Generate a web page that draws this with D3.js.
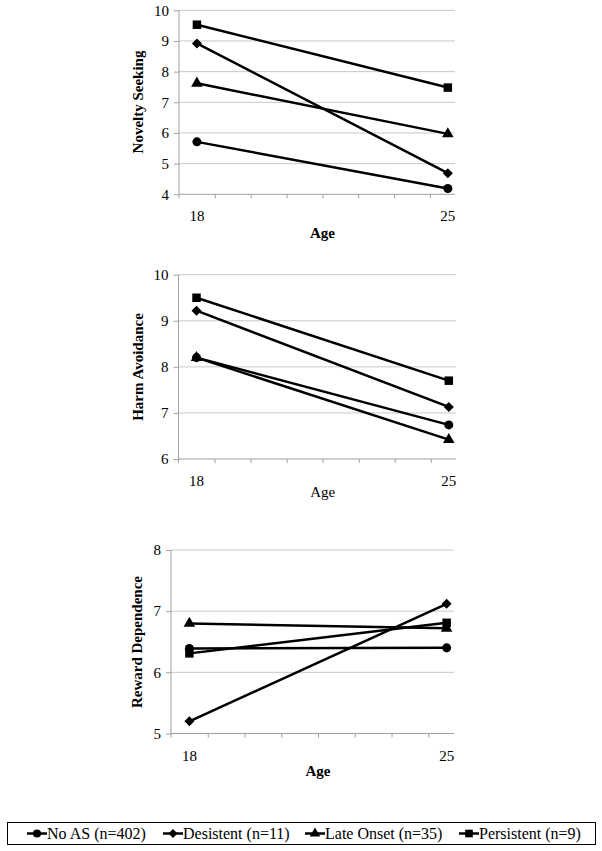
<!DOCTYPE html>
<html>
<head>
<meta charset="utf-8">
<script src="https://cdn.jsdelivr.net/npm/d3@7"></script>
<style>
  html, body { margin: 0; padding: 0; background: #fff; }
  svg { display: block; }
  text { font-family: "Liberation Serif", "Times New Roman", serif; fill: #000; }
</style>
</head>
<body>
<svg id="chart" width="602" height="851"></svg>
<script>
// ---- data ----
const ages = [18, 25];
const xTickLabels = ["18", "25"];
const seriesNames = ["No AS (n=402)", "Desistent (n=11)", "Late Onset (n=35)", "Persistent (n=9)"];
const seriesSymbols = ["circle", "diamond", "triangle", "square"];

const noveltyNoAS = [5.71, 4.19];
const noveltyDesistent = [8.92, 4.69];
const noveltyLateOnset = [7.62, 5.97];
const noveltyPersistent = [9.53, 7.48];

const harmNoAS = [8.20, 6.74];
const harmDesistent = [9.22, 7.13];
const harmLateOnset = [8.20, 6.42];
const harmPersistent = [9.50, 7.70];

const rewardNoAS = [6.39, 6.40];
const rewardDesistent = [5.20, 7.12];
const rewardLateOnset = [6.80, 6.72];
const rewardPersistent = [6.31, 6.81];

const noveltyTicks = [4, 5, 6, 7, 8, 9, 10];
const harmTicks = [6, 7, 8, 9, 10];
const rewardTicks = [5, 6, 7, 8];

// ---- layout ----
const panels = [
  { title: "Novelty Seeking", xTitle: "Age", xBold: true,
    series: [noveltyNoAS, noveltyDesistent, noveltyLateOnset, noveltyPersistent],
    yDomain: [4, 10], yTicks: noveltyTicks,
    left: 179, right: 455, top: 10.3, bottom: 194.3,
    titleX: 138, titleY: 102, xTitleY: 238 },
  { title: "Harm Avoidance", xTitle: "Age", xBold: false,
    series: [harmNoAS, harmDesistent, harmLateOnset, harmPersistent],
    yDomain: [6, 10], yTicks: harmTicks,
    left: 178.5, right: 456, top: 274.7, bottom: 459,
    titleX: 137.5, titleY: 367, xTitleY: 497 },
  { title: "Reward Dependence", xTitle: "Age", xBold: true,
    series: [rewardNoAS, rewardDesistent, rewardLateOnset, rewardPersistent],
    yDomain: [5, 8], yTicks: rewardTicks,
    left: 171, right: 454, top: 550, bottom: 733.5,
    titleX: 137, titleY: 642, xTitleY: 776 }
];

const svg = d3.select("#chart");
const gridColor = "#c8c8c8";
const axisColor = "#a0a0a0";

function drawSymbol(g, type, x, y, scale = 1) {
  const sizes = { circle: 64, diamond: 60, triangle: 58, square: 72 };
  const sym = { circle: d3.symbolCircle, diamond: d3.symbolDiamond2 || d3.symbolDiamond,
                triangle: d3.symbolTriangle, square: d3.symbolSquare }[type];
  let path;
  if (type === "diamond") {
    const r = 5 * scale;
    path = `M0,${-r}L${r},0L0,${r}L${-r},0Z`;
  } else {
    path = d3.symbol().type(sym).size(sizes[type] * scale * scale)();
  }
  g.append("path").attr("d", path)
    .attr("transform", `translate(${x},${y})`)
    .attr("fill", "#000");
}

panels.forEach(p => {
  const x = d3.scaleLinear().domain([17.5, 25.2]).range([p.left, p.right]);
  const y = d3.scaleLinear().domain(p.yDomain).range([p.bottom, p.top]);
  const g = svg.append("g");

  // gridlines
  g.selectAll(".grid").data(p.yTicks.slice(1)).enter().append("line")
    .attr("x1", p.left).attr("x2", p.right)
    .attr("y1", d => y(d)).attr("y2", d => y(d))
    .attr("stroke", gridColor).attr("stroke-width", 1);

  // y axis
  const yAxis = d3.axisLeft(y).tickValues(p.yTicks).tickSize(5).tickPadding(5)
    .tickFormat(d3.format("d"));
  const ya = g.append("g").attr("transform", `translate(${p.left},0)`).call(yAxis);
  ya.select(".domain").attr("stroke", axisColor).attr("d", `M0,${p.top}V${p.bottom + 4}`);
  ya.selectAll(".tick line").attr("stroke", axisColor);
  ya.selectAll(".tick text").style("font-size", "15px")
    .style("font-family", '"Liberation Serif", serif').attr("fill", "#000");

  // x axis: minor ticks between categories
  const minorTicks = d3.range(18.5, 25, 1);
  const xa = d3.axisBottom(x).tickValues(minorTicks).tickSize(4).tickFormat("");
  const xg = g.append("g").attr("transform", `translate(0,${p.bottom})`).call(xa);
  xg.select(".domain").attr("stroke", axisColor).attr("d", `M${p.left},0H${p.right}`);
  xg.selectAll(".tick line").attr("stroke", axisColor);

  // x labels
  g.selectAll(".xl").data(ages).enter().append("text")
    .attr("x", d => x(d)).attr("y", p.bottom + 27)
    .attr("text-anchor", "middle").style("font-size", "15px")
    .text((d, i) => xTickLabels[i]);

  // axis titles
  g.append("text")
    .attr("transform", `translate(${p.titleX},${p.titleY}) rotate(-90)`)
    .attr("text-anchor", "middle").attr("dy", "0.35em")
    .style("font-size", "15px").style("font-weight", "bold")
    .text(p.title);
  g.append("text")
    .attr("x", (x(18) + x(25)) / 2).attr("y", p.xTitleY)
    .attr("text-anchor", "middle")
    .style("font-size", "15px").style("font-weight", p.xBold ? "bold" : "normal")
    .text(p.xTitle);

  // lines
  const line = d3.line().x((d, i) => x(ages[i])).y(d => y(d));
  p.series.forEach(s => {
    g.append("path").datum(s).attr("d", line)
      .attr("fill", "none").attr("stroke", "#000").attr("stroke-width", 2.5);
  });
  // markers (drawn in reverse so No AS is on top)
  p.series.map((s, k) => [s, k]).reverse().forEach(([s, k]) => {
    s.forEach((v, i) => drawSymbol(g, seriesSymbols[k], x(ages[i]), y(v)));
  });
});

// ---- legend ----
const legend = svg.append("g");
legend.append("rect").attr("x", 7.5).attr("y", 822.5).attr("width", 588).attr("height", 22)
  .attr("fill", "#fff").attr("stroke", "#000").attr("stroke-width", 1);
const legendX = [27, 163, 305, 459];
seriesNames.forEach((name, k) => {
  const lx = legendX[k];
  const ly = 833.5;
  legend.append("line").attr("x1", lx).attr("x2", lx + 20).attr("y1", ly).attr("y2", ly)
    .attr("stroke", "#000").attr("stroke-width", 2.5);
  drawSymbol(legend, seriesSymbols[k], lx + 10, ly, 0.9);
  legend.append("text").attr("x", lx + 20).attr("y", ly).attr("dy", "0.35em")
    .style("font-size", "16px").text(name);
});
</script>
</body>
</html>
